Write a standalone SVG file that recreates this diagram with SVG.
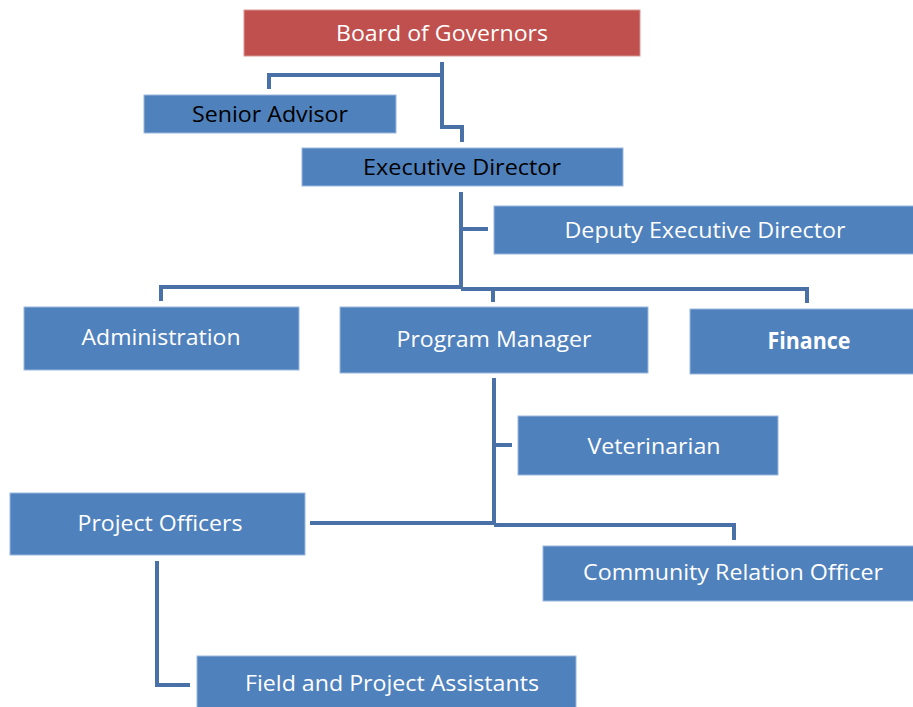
<svg xmlns="http://www.w3.org/2000/svg" width="913" height="707" viewBox="0 0 913 707">
<style>
.box{fill:#4F81BD;stroke:#9BB7DD;stroke-width:1}
.red{fill:#C0504D;stroke:#D99694;stroke-width:1}
text{font-family:"Open Sans","Noto Sans","Liberation Sans",sans-serif;font-size:22.5px;text-anchor:middle}
.w{fill:#FFFFFF}
.k{fill:#000000}
.b{font-weight:bold}
.c{fill:none;stroke:#4A70A8;stroke-width:4;stroke-linejoin:miter}
</style>
<rect width="913" height="707" fill="#FFFFFF"/>
<g id="connectors">
<path class="c" d="M442 62 V127 H462 V142"/>
<path class="c" d="M442 75 H269 V89"/>
<path class="c" d="M461 192 V289"/>
<path class="c" d="M461 229 H488"/>
<path class="c" d="M161 301 V287 H461"/>
<path class="c" d="M461 289 H807 V303"/>
<path class="c" d="M493 289 V302"/>
<path class="c" d="M494 378 V525"/>
<path class="c" d="M494 445 H512"/>
<path class="c" d="M310 523 H494"/>
<path class="c" d="M494 525 H734 V540"/>
<path class="c" d="M157 561 V685 H190"/>
</g>
<g id="board"><rect class="red" x="244" y="10" width="396" height="46"/><text class="w" x="442" y="41" textLength="212" lengthAdjust="spacingAndGlyphs">Board of Governors</text></g>
<g id="senior"><rect class="box" x="144" y="95" width="252" height="38"/><text class="k" x="270" y="122" textLength="156" lengthAdjust="spacingAndGlyphs">Senior Advisor</text></g>
<g id="exec"><rect class="box" x="302" y="148" width="321" height="38"/><text class="k" x="462" y="175" textLength="198" lengthAdjust="spacingAndGlyphs">Executive Director</text></g>
<g id="deputy"><rect class="box" x="494" y="206" width="420" height="48"/><text class="w" x="705" y="238" textLength="281" lengthAdjust="spacingAndGlyphs">Deputy Executive Director</text></g>
<g id="admin"><rect class="box" x="24" y="307" width="275" height="63"/><text class="w" x="161" y="345" textLength="159" lengthAdjust="spacingAndGlyphs">Administration</text></g>
<g id="pm"><rect class="box" x="340" y="307" width="308" height="66"/><text class="w" x="494" y="347" textLength="195" lengthAdjust="spacingAndGlyphs">Program Manager</text></g>
<g id="finance"><rect class="box" x="690" y="309" width="224" height="65"/><text class="w b" x="809" y="349" textLength="83" lengthAdjust="spacingAndGlyphs">Finance</text></g>
<g id="vet"><rect class="box" x="518" y="416" width="260" height="59"/><text class="w" x="654" y="454" textLength="133" lengthAdjust="spacingAndGlyphs">Veterinarian</text></g>
<g id="po"><rect class="box" x="10" y="493" width="295" height="62"/><text class="w" x="160" y="531" textLength="165" lengthAdjust="spacingAndGlyphs">Project Officers</text></g>
<g id="cro"><rect class="box" x="543" y="546" width="371" height="55"/><text class="w" x="733" y="580" textLength="300" lengthAdjust="spacingAndGlyphs">Community Relation Officer</text></g>
<g id="fpa"><rect class="box" x="197" y="656" width="379" height="52"/><text class="w" x="392" y="691" textLength="294" lengthAdjust="spacingAndGlyphs">Field and Project Assistants</text></g>
</svg>
